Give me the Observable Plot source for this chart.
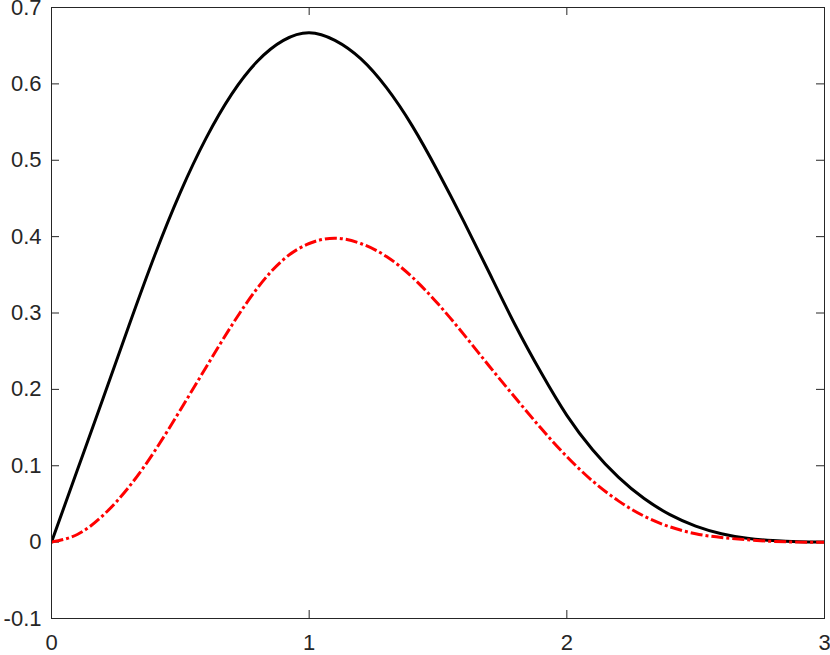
<!DOCTYPE html>
<html>
<head>
<meta charset="utf-8">
<script src="https://cdn.jsdelivr.net/npm/d3@7"></script>
<script src="https://cdn.jsdelivr.net/npm/@observablehq/plot@0.6"></script>
<style>
  html, body { margin: 0; padding: 0; background: #ffffff; }
  #chart svg { display: block; }
</style>
</head>
<body>
<div id="chart"></div>
<script>
// Sample positions along x
const xs = [0, 0.1, 0.2, 0.3, 0.4, 0.5, 0.6, 0.7, 0.8, 0.9,
            1.0, 1.1, 1.2, 1.3, 1.4, 1.5, 1.6, 1.7, 1.8, 1.9,
            2.0, 2.1, 2.2, 2.3, 2.4, 2.5, 2.6, 2.7, 2.8, 2.9, 3.0];

// Solid black series
const blackSeries = [0, 0.094, 0.188, 0.283, 0.375, 0.458, 0.529, 0.587, 0.630, 0.657,
                     0.667, 0.657, 0.633, 0.595, 0.545, 0.485, 0.420, 0.352, 0.284, 0.222,
                     0.166, 0.121, 0.085, 0.057, 0.036, 0.021, 0.011, 0.005, 0.002, 0.0005, 0];

// Red dash-dot series
const redSeries = [0, 0.010, 0.035, 0.072, 0.119, 0.173, 0.229, 0.284, 0.333, 0.370,
                   0.391, 0.398, 0.391, 0.374, 0.347, 0.312, 0.272, 0.230, 0.189, 0.149,
                   0.112, 0.080, 0.054, 0.034, 0.020, 0.011, 0.006, 0.003, 0.001, 0, 0];

// Ticks and their labels
const xTicks = [0, 1, 2, 3];
const xTickLabels = ["0", "1", "2", "3"];
const yTicks = [-0.1, 0, 0.1, 0.2, 0.3, 0.4, 0.5, 0.6, 0.7];
const yTickLabels = ["-0.1", "0", "0.1", "0.2", "0.3", "0.4", "0.5", "0.6", "0.7"];

const black = xs.map((x, i) => ({x, y: blackSeries[i]}));
const red = xs.map((x, i) => ({x, y: redSeries[i]}));

const W = 830, H = 655;
const mTop = 7, mBottom = 37, mLeft = 51, mRight = 6;
const innerH = H - mTop - mBottom;
const innerW = W - mLeft - mRight;
const tickLen = 8;
const axisColor = "#262626";
const font = "'Liberation Sans', Arial, Helvetica, sans-serif";

const chart = Plot.plot({
  width: W,
  height: H,
  marginTop: mTop,
  marginBottom: mBottom,
  marginLeft: mLeft,
  marginRight: mRight,
  style: {fontFamily: font, fontSize: "22px", color: axisColor, background: "#ffffff", overflow: "visible"},
  x: {domain: [0, 3]},
  y: {domain: [-0.1, 0.7]},
  marks: [
    Plot.axisX({ticks: xTicks, tickSize: 0, tickPadding: 16, tickFormat: d => xTickLabels[xTicks.indexOf(d)], fontSize: 22, fill: axisColor, label: null}),
    Plot.axisY({ticks: yTicks, tickSize: 0, tickPadding: 10, tickFormat: d => yTickLabels[yTicks.findIndex(t => Math.abs(t - d) < 1e-9)], fontSize: 22, fill: axisColor, label: null}),
    // inward ticks on all four sides
    Plot.tickX(xTicks, {x: d => d, insetTop: innerH - tickLen, stroke: axisColor, strokeWidth: 1}),
    Plot.tickX(xTicks, {x: d => d, insetBottom: innerH - tickLen, stroke: axisColor, strokeWidth: 1}),
    Plot.tickY(yTicks, {y: d => d, insetRight: innerW - tickLen, stroke: axisColor, strokeWidth: 1}),
    Plot.tickY(yTicks, {y: d => d, insetLeft: innerW - tickLen, stroke: axisColor, strokeWidth: 1}),
    Plot.line(black, {x: "x", y: "y", stroke: "#000000", strokeWidth: 3, curve: "natural", clip: true}),
    Plot.line(red, {x: "x", y: "y", stroke: "#ff0000", strokeWidth: 3, strokeDasharray: "12,3,3,3", strokeLinecap: "butt", curve: "natural", clip: true}),
    Plot.frame({stroke: axisColor, strokeWidth: 1})
  ]
});

document.getElementById("chart").appendChild(chart);
</script>
</body>
</html>
